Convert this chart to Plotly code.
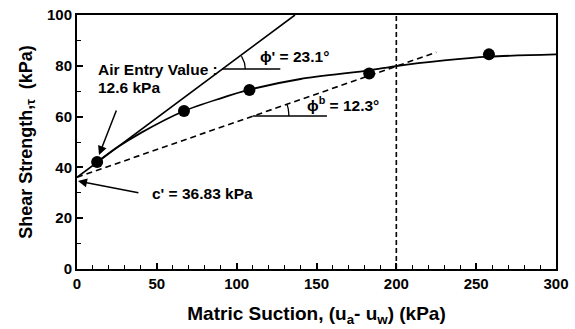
import numpy as np
import plotly.graph_objects as go

# ---------------- data ----------------
suction = [12.6, 67, 108, 183, 258]           # kPa
strength = [42.1, 62.2, 70.5, 77.0, 84.5]     # kPa

curve_x = [12.6, 25, 40, 67, 90, 108, 140, 183, 200, 230, 258, 300]
curve_y = [42.1, 47.8, 53.6, 62.2, 67.2, 70.6, 74.8, 78.2, 79.9, 82.1, 83.6, 84.5]

phi_line_x = [0, 136.5]          # phi' = 23.1 deg envelope
phi_line_y = [36.1, 100]
phib_line_x = [0, 225]           # phi^b = 12.3 deg envelope
phib_line_y = [36.1, 85.3]

aev_x = [200, 200]
aev_y = [0, 100]

x_ticks = [0, 50, 100, 150, 200, 250, 300]
y_ticks = [0, 20, 40, 60, 80, 100]

# plot geometry
L, R, T, B = 77, 19, 15, 60
W, H = 575, 329
XR, YR = (0, 300), (0, 100)
pxx = (W - L - R) / (XR[1] - XR[0])
pxy = (H - T - B) / (YR[1] - YR[0])

FONT = "Arial, Liberation Sans, Helvetica, sans-serif"

fig = go.Figure()

fig.add_trace(go.Scatter(x=phi_line_x, y=phi_line_y, mode="lines",
                         line=dict(color="black", width=1.6), hoverinfo="skip"))
fig.add_trace(go.Scatter(x=phib_line_x, y=phib_line_y, mode="lines",
                         line=dict(color="black", width=1.6, dash="6px,4px"), hoverinfo="skip"))
fig.add_trace(go.Scatter(x=aev_x, y=aev_y, mode="lines",
                         line=dict(color="black", width=1.6, dash="5px,3px"), hoverinfo="skip"))
fig.add_trace(go.Scatter(x=curve_x, y=curve_y, mode="lines",
                         line=dict(color="black", width=1.8, shape="spline", smoothing=0.8),
                         hoverinfo="skip"))
fig.add_trace(go.Scatter(x=suction, y=strength, mode="markers",
                         marker=dict(color="black", size=12)))


def line_y(xs, ys, y):
    return xs[0] + (y - ys[0]) * (xs[1] - xs[0]) / (ys[1] - ys[0])


def arc(cx, cy, r_px, ang_deg):
    t = np.linspace(0, np.radians(ang_deg), 20)
    return cx + r_px * np.cos(t) / pxx, cy + r_px * np.sin(t) / pxy


# phi' angle marker
phi_ref_y = 78.7
phi_cx = line_y(phi_line_x, phi_line_y, phi_ref_y)
ax_, ay_ = arc(phi_cx, phi_ref_y, 23, 34)
fig.add_trace(go.Scatter(x=[phi_cx, phi_cx + 58 / pxx], y=[phi_ref_y, phi_ref_y], mode="lines",
                         line=dict(color="black", width=1.5), hoverinfo="skip"))
fig.add_trace(go.Scatter(x=ax_, y=ay_, mode="lines", line=dict(color="black", width=1.3),
                         hoverinfo="skip"))

# phi^b angle marker
phib_ref_y = 60.2
phib_cx = line_y(phib_line_x, phib_line_y, phib_ref_y)
bx_, by_ = arc(phib_cx, phib_ref_y, 36, 19)
fig.add_trace(go.Scatter(x=[phib_cx, phib_cx + 74 / pxx], y=[phib_ref_y, phib_ref_y], mode="lines",
                         line=dict(color="black", width=1.5), hoverinfo="skip"))
fig.add_trace(go.Scatter(x=bx_, y=by_, mode="lines", line=dict(color="black", width=1.3),
                         hoverinfo="skip"))

tf = dict(family=FONT, size=15.5, color="black", weight="bold")

ann = [
    dict(x=11.9, y=78.7, text="Air Entry Value :", showarrow=False, xanchor="left", yanchor="middle", font=tf),
    dict(x=11.9, y=71.3, text="12.6 kPa", showarrow=False, xanchor="left", yanchor="middle", font=tf),
    dict(x=113.3, y=83.5, text="\u03d5' = 23.1\u00b0", showarrow=False, xanchor="left", yanchor="middle", font=tf),
    dict(x=142.8, y=65.0, text="\u03d5<sup>b</sup> = 12.3\u00b0", showarrow=False, xanchor="left", yanchor="middle", font=tf),
    dict(x=45.7, y=29.9, text="c' = 36.83 kPa", showarrow=False, xanchor="left", yanchor="middle", font=tf),
    dict(x=13.8, y=44.9, ax=25.0, ay=63.0, axref="x", ayref="y", xref="x", yref="y", text="",
         showarrow=True, arrowhead=2, arrowsize=1.2, arrowwidth=1.5, arrowcolor="black"),
    dict(x=0.6, y=34.6, ax=39.4, ay=29.9, axref="x", ayref="y", xref="x", yref="y", text="",
         showarrow=True, arrowhead=2, arrowsize=1.2, arrowwidth=1.5, arrowcolor="black"),
]

fig.update_layout(
    width=W, height=H,
    margin=dict(l=L, r=R, t=T, b=B),
    plot_bgcolor="white", paper_bgcolor="white",
    showlegend=False,
    annotations=ann,
    font=dict(family=FONT, color="black"),
)

axis_common = dict(
    showgrid=False, zeroline=False, showline=True, linecolor="black", linewidth=2,
    mirror=True, ticks="inside", tickwidth=1.5, ticklen=6, tickcolor="black",
    tickfont=dict(family=FONT, size=15, color="black", weight="bold"),
    automargin=False, ticklabeloverflow="allow",
)

fig.update_xaxes(range=list(XR), tickvals=x_ticks, ticktext=[str(v) for v in x_ticks],
                 minor=dict(ticks="inside", dtick=10, ticklen=4, tickwidth=1.2, tickcolor="black"),
                 title=dict(text="Matric Suction, (u<sub>a</sub>- u<sub>w</sub>) (kPa)",
                            font=dict(family=FONT, size=19, color="black", weight="bold"), standoff=16),
                 **axis_common)
fig.update_yaxes(range=list(YR), tickvals=y_ticks, ticktext=[str(v) for v in y_ticks],
                 minor=dict(ticks="inside", dtick=10, ticklen=4, tickwidth=1.2, tickcolor="black"),
                 title=dict(text="Shear Strength,<sub>\u03c4</sub>  (kPa)",
                            font=dict(family=FONT, size=18, color="black", weight="bold"), standoff=10),
                 **axis_common)

fig.write_html("out.html", config={"displayModeBar": False},
               post_script="document.body.style.margin='0';document.body.style.overflow='hidden';")
